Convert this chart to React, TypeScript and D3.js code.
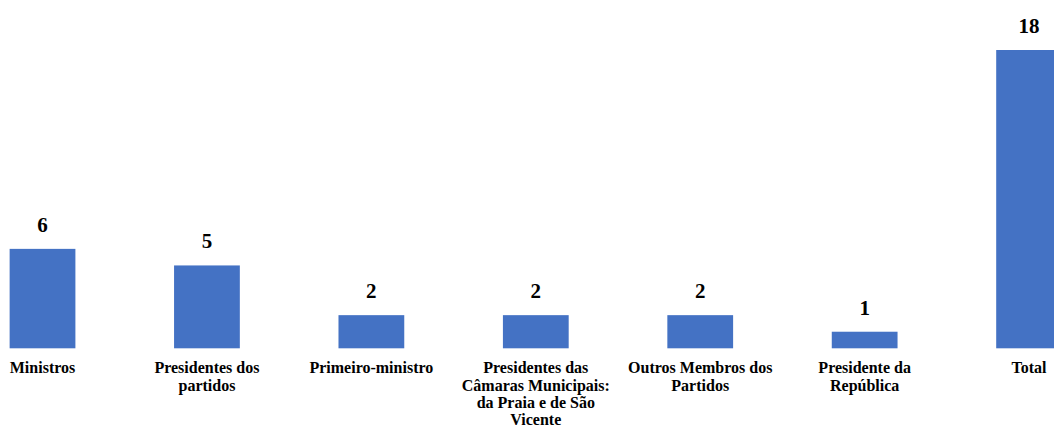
import { useEffect, useRef } from 'react';
import * as d3 from 'd3';

const categories = [
  'Ministros',
  'Presidentes dos partidos',
  'Primeiro-ministro',
  'Presidentes das Câmaras Municipais: da Praia e de São Vicente',
  'Outros Membros dos Partidos',
  'Presidente da República',
  'Total',
];

const values = [6, 5, 2, 2, 2, 1, 18];

// tick labels, broken the way the reference wraps them
const tickLines = [
  ['Ministros'],
  ['Presidentes dos', 'partidos'],
  ['Primeiro-ministro'],
  ['Presidentes das', 'Câmaras Municipais:', 'da Praia e de São', 'Vicente'],
  ['Outros Membros dos', 'Partidos'],
  ['Presidente da', 'República'],
  ['Total'],
];

const W = 1054;
const H = 427;
const FONT = 'Liberation Serif, Times New Roman, Times, serif';

function BarChart() {
  const svgRef = useRef(null);

  useEffect(() => {
    const svg = d3.select(svgRef.current);
    svg.selectAll('*').remove();

    const x = d3
      .scaleBand()
      .domain(categories)
      .range([-39.7, 1111.3])
      .paddingInner(0.6)
      .paddingOuter(0.3);

    const y = d3.scaleLinear().domain([0, 18]).range([348.3, 50]);

    const data = categories.map((c, i) => ({ c, v: values[i], lines: tickLines[i] }));

    svg
      .selectAll('rect.bar')
      .data(data)
      .join('rect')
      .attr('class', 'bar')
      .attr('x', d => x(d.c))
      .attr('y', d => y(d.v))
      .attr('width', x.bandwidth())
      .attr('height', d => y(0) - y(d.v))
      .attr('fill', '#4472C4');

    svg
      .selectAll('text.val')
      .data(data)
      .join('text')
      .attr('class', 'val')
      .attr('x', d => x(d.c) + x.bandwidth() / 2)
      .attr('y', d => y(d.v) - 17)
      .attr('text-anchor', 'middle')
      .style('font-family', FONT)
      .style('font-weight', 'bold')
      .style('font-size', '21px')
      .attr('fill', '#000')
      .text(d => d.v);

    const ticks = svg
      .selectAll('text.tick')
      .data(data)
      .join('text')
      .attr('class', 'tick')
      .attr('x', d => x(d.c) + x.bandwidth() / 2)
      .attr('y', y(0) + 25)
      .attr('text-anchor', 'middle')
      .style('font-family', FONT)
      .style('font-weight', 'bold')
      .style('font-size', '16px')
      .attr('fill', '#000');

    ticks
      .selectAll('tspan')
      .data(d => d.lines.map(l => ({ l, cx: x(d.c) + x.bandwidth() / 2 })))
      .join('tspan')
      .attr('x', d => d.cx)
      .attr('dy', (d, i) => (i === 0 ? 0 : 17.3))
      .text(d => d.l);
  }, []);

  return (
    <svg
      ref={svgRef}
      width={W}
      height={H}
      style={{ position: 'absolute', left: 0, top: 0, background: '#fff' }}
    />
  );
}

export default function App() {
  return <BarChart />;
}
